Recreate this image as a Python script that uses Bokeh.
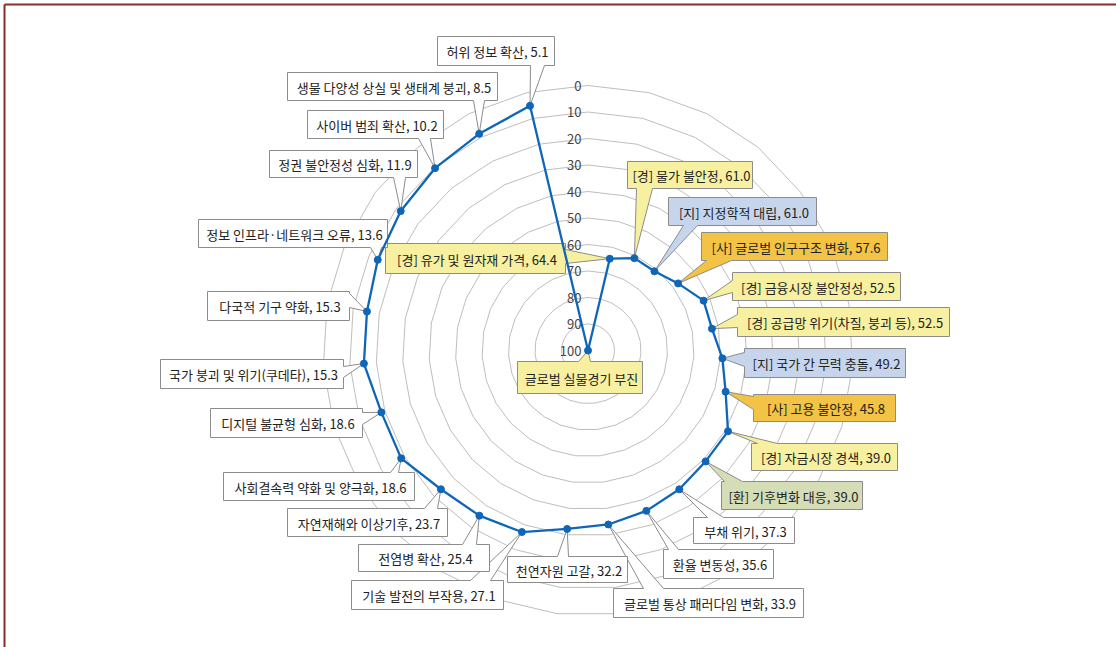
import math
from bokeh.plotting import figure
from bokeh.models import Range1d
from bokeh.core.properties import value
from bokeh.embed import file_html
from bokeh.resources import INLINE

# ---------------- data ----------------
categories = [
    "글로벌 실물경기 부진",
    "[경] 유가 및 원자재 가격",
    "[경] 물가 불안정",
    "[지] 지정학적 대립",
    "[사] 글로벌 인구구조 변화",
    "[경] 금융시장 불안정성",
    "[경] 공급망 위기(차질, 붕괴 등)",
    "[지] 국가 간 무력 충돌",
    "[사] 고용 불안정",
    "[경] 자금시장 경색",
    "[환] 기후변화 대응",
    "부채 위기",
    "환율 변동성",
    "글로벌 통상 패러다임 변화",
    "천연자원 고갈",
    "기술 발전의 부작용",
    "전염병 확산",
    "자연재해와 이상기후",
    "사회결속력 약화 및 양극화",
    "디지털 불균형 심화",
    "국가 붕괴 및 위기(쿠데타)",
    "다국적 기구 약화",
    "정보 인프라·네트워크 오류",
    "정권 불안정성 심화",
    "사이버 범죄 확산",
    "생물 다양성 상실 및 생태계 붕괴",
    "허위 정보 확산",
]
values = [100.0, 64.4, 61.0, 61.0, 57.6, 52.5, 52.5, 49.2, 45.8, 39.0, 39.0,
          37.3, 35.6, 33.9, 32.2, 27.1, 25.4, 23.7, 18.6, 18.6, 15.3, 15.3,
          13.6, 11.9, 10.2, 8.5, 5.1]
show_value = [False] + [True] * 26
groups = ["top", "경", "경", "지", "사", "경", "경", "지", "사", "경", "환",
          "", "", "", "", "", "", "", "", "", "", "", "", "", "", "", ""]
ring_ticks = [0, 10, 20, 30, 40, 50, 60, 70, 80, 90, 100]

# ---------------- layout / style ----------------
W, H = 1116, 647
CX, CY, RAD = 587.5, 350.0, 265.0

fills = {"top": "#F6F0A0", "경": "#F6F0A0", "지": "#C6D5EB",
         "사": "#F3C345", "환": "#D5DDB6", "": "#FFFFFF"}

# box (x0, y0, x1, y1), side of pointer, pointer base (start, end)
callouts = [
    ((517, 361, 642, 393), "top", (578, 590)),
    ((385, 243, 565, 273), "right", (249, 263)),
    ((627, 161, 752, 188), "bottom", (636, 652)),
    ((668, 197, 816, 225), "bottom", (683, 697)),
    ((701, 232, 887, 260), "bottom", (706, 731)),
    ((732, 272, 900, 300), "left", (280, 292)),
    ((737, 307, 949, 336), "left", (314, 327)),
    ((744, 348, 905, 377), "left", (352, 366)),
    ((753, 394, 895, 421), "left", (396, 409)),
    ((751, 443, 897, 470), "top", (757, 777)),
    ((721, 481, 862, 509), "top", (724, 742)),
    ((693, 517, 794, 543), "top", (707, 723)),
    ((663, 549, 773, 578), "top", (668, 678)),
    ((613, 588, 803, 617), "top", (643, 663)),
    ((507, 556, 627, 582), "top", (557, 568)),
    ((351, 580, 503, 609), "top", (470, 490)),
    ((358, 544, 489, 571), "top", (462, 476)),
    ((287, 508, 447, 536), "top", (424, 437)),
    ((223, 472, 414, 500), "top", (390, 398)),
    ((210, 408, 362, 437), "right", (412, 424)),
    ((160, 359, 343, 388), "right", (366, 377)),
    ((207, 291, 349, 320), "right", (293, 307)),
    ((198, 219, 387, 247), "bottom", (370, 381)),
    ((269, 150, 417, 177), "bottom", (393, 405)),
    ((307, 110, 443, 138), "bottom", (418, 430)),
    ((287, 72, 497, 100), "bottom", (473, 484)),
    ((437, 36, 554, 65), "bottom", (530, 544)),
]

FONT = value("Noto Sans CJK KR")
n = len(categories)


def pos(v, i):
    th = 2 * math.pi * i / n
    r = (100.0 - v) / 100.0 * RAD
    return CX + r * math.sin(th), CY - r * math.cos(th)


p = figure(width=W, height=H, x_range=Range1d(0, W), y_range=Range1d(H, 0),
           output_backend="svg", toolbar_location=None, min_border=0)
p.axis.visible = False
p.grid.visible = False
p.outline_line_color = None
p.background_fill_color = "white"
p.border_fill_color = "white"

# frame lines (left and top)
p.line([4, 4], [H, 4], line_color="#8a2d2d", line_width=2)
p.line([4, W], [4, 4], line_color="#8a2d2d", line_width=2)

# grid rings
for t in ring_ticks[:-1]:
    xs, ys = [], []
    for i in range(n + 1):
        x, y = pos(t, i % n)
        xs.append(x)
        ys.append(y)
    p.line(xs, ys, line_color="#b5b5b5", line_width=0.9)

# ring labels
rx, ry = [], []
for t in ring_ticks:
    rx.append(CX - 6.5)
    ry.append(CY - (100 - t) / 100.0 * RAD)
p.text(rx, ry, text=[str(t) for t in ring_ticks], text_font=FONT,
       text_font_size="13px", text_color="#444444", text_align="right",
       text_baseline="middle")

# points
pts = [pos(v, i) for i, v in enumerate(values)]

# callouts
for i, ((x0, y0, x1, y1), side, (b0, b1)) in enumerate(callouts):
    ax, ay = pts[i]
    if side == "top":
        poly = [(x0, y0), (b0, y0), (ax, ay), (b1, y0), (x1, y0), (x1, y1), (x0, y1)]
    elif side == "right":
        poly = [(x0, y0), (x1, y0), (x1, b0), (ax, ay), (x1, b1), (x1, y1), (x0, y1)]
    elif side == "bottom":
        poly = [(x0, y0), (x1, y0), (x1, y1), (b1, y1), (ax, ay), (b0, y1), (x0, y1)]
    else:
        poly = [(x0, y0), (x1, y0), (x1, y1), (x0, y1), (x0, b1), (ax, ay), (x0, b0)]
    p.patch([q[0] for q in poly], [q[1] for q in poly],
            fill_color=fills[groups[i]], line_color="#8c8c8c", line_width=1)
    label = categories[i] + (f", {values[i]:.1f}" if show_value[i] else "")
    p.text([(x0 + x1) / 2 + 1.5], [(y0 + y1) / 2 + 0.5], text=[label],
           text_font=FONT, text_font_size="13px", text_color="#222222",
           text_align="center", text_baseline="middle")

# radar line
lx = [q[0] for q in pts] + [pts[0][0]]
ly = [q[1] for q in pts] + [pts[0][1]]
p.line(lx, ly, line_color="#0f66b8", line_width=2.3, line_join="round")
p.scatter([q[0] for q in pts], [q[1] for q in pts], size=7,
          fill_color="#0f66b8", line_color="#0f66b8")

open("out.html", "w").write(file_html(p, INLINE))
